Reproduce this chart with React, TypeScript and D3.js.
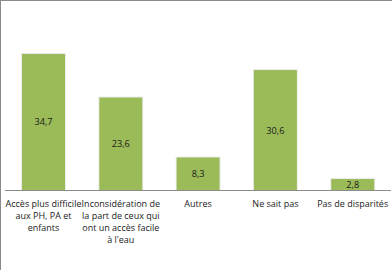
import React from "react";
import * as d3 from "d3";

const categories: string[][] = [
  ["Accès plus difficile", "aux PH, PA et", "enfants"],
  ["Inconsidération de", "la part de ceux qui", "ont un accès facile", "à l'eau"],
  ["Autres"],
  ["Ne sait pas"],
  ["Pas de disparités"],
];
const values: number[] = [34.7, 23.6, 8.3, 30.6, 2.8];
const valueLabels: string[] = ["34,7", "23,6", "8,3", "30,6", "2,8"];

const W = 392;
const H = 270;
const FONT = "'Open Sans', 'Noto Sans', sans-serif";

export default function App() {
  const left = 4.85;
  const right = 391.35;
  const baseline = 190;
  const x = d3
    .scaleBand<number>()
    .domain(d3.range(values.length))
    .range([left, right])
    .paddingInner(0.444)
    .paddingOuter(0.222);
  const y = d3.scaleLinear().domain([0, 40]).range([baseline, baseline - 40 * 3.92]);

  return (
    <svg
      width={W}
      height={H}
      style={{ position: "absolute", left: 0, top: 0, display: "block", background: "#fff" }}
    >
      <line x1={0} y1={0.5} x2={W} y2={0.5} stroke="#8a8a8a" strokeWidth={1} />
      <line x1={0.5} y1={0} x2={0.5} y2={H} stroke="#8a8a8a" strokeWidth={1} />
      {values.map((v, i) => {
        const bx = x(i)!;
        const bw = x.bandwidth();
        const by = y(v);
        return (
          <g key={i}>
            <rect x={bx - 1} y={by - 1} width={bw + 2} height={baseline - by + 1} fill="#ececec" />
            <rect x={bx} y={by} width={bw} height={baseline - by} fill="#9bbb59" />
            <text
              x={bx + bw / 2}
              y={(by + baseline) / 2}
              textAnchor="middle"
              dominantBaseline="central"
              fontFamily={FONT}
              fontSize={9.2}
              fill="#1a1a1a"
            >
              {valueLabels[i]}
            </text>
          </g>
        );
      })}
      <line x1={5} y1={baseline + 0.5} x2={391} y2={baseline + 0.5} stroke="#8c8c8c" strokeWidth={1} />
      {categories.map((lines, i) => {
        const cx = x(i)! + x.bandwidth() / 2;
        return (
          <text key={i} textAnchor="middle" fontFamily={FONT} fontSize={9} fill="#1a1a1a">
            {lines.map((l, j) => (
              <tspan key={j} x={cx} y={206.5 + j * 12.3}>
                {l}
              </tspan>
            ))}
          </text>
        );
      })}
    </svg>
  );
}
